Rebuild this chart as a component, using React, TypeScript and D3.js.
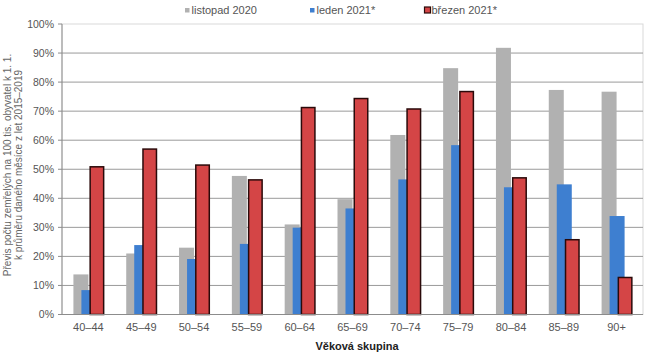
import React from "react";
import * as d3 from "d3";

const categories = ["40–44", "45–49", "50–54", "55–59", "60–64", "65–69", "70–74", "75–79", "80–84", "85–89", "90+"];
const listopad2020 = [13.8, 21, 23, 47.7, 31, 39.7, 61.8, 84.8, 91.8, 77.3, 76.7];
const leden2021 = [8.4, 23.9, 19.1, 24.3, 29.9, 36.5, 46.5, 58.3, 43.8, 44.8, 33.9];
const brezen2021 = [51.1, 57.2, 51.7, 46.6, 71.5, 74.6, 71, 77, 47.3, 26, 13];
const yTicks = [0, 10, 20, 30, 40, 50, 60, 70, 80, 90, 100];
const seriesNames = ["listopad 2020", "leden 2021*", "březen 2021*"];

const W = 650, H = 356;
const left = 62, right = 643, top = 24, bottom = 314.5;
const font = "'Liberation Sans', Arial, sans-serif";

export default function App() {
  const x = d3.scaleBand<string>().domain(categories).range([left, right]).padding(0);
  const y = d3.scaleLinear().domain([0, 100]).range([bottom, top]);
  const bw = 15;
  const offsets = [-15, -7, 1];
  const fills = ["#b1b1b1", "#3e7fd0", "#d44546"];
  const series = [listopad2020, leden2021, brezen2021];

  return (
    <svg width={W} height={H} style={{ position: "absolute", left: 0, top: 0 }} fontFamily={font}>
      <rect x={0} y={0} width={W} height={H} fill="#fff" />
      {/* plot border */}
      <rect x={left} y={top} width={right - left} height={bottom - top} fill="none" stroke="#d9d9d9" strokeWidth={1} />
      {/* gridlines */}
      {yTicks.filter(t => t > 0 && t < 100).map(t => (
        <line key={t} x1={left} x2={right} y1={y(t)} y2={y(t)} stroke="#9a9a9a" strokeWidth={1} />
      ))}
      {/* y axis */}
      <line x1={left} x2={left} y1={top} y2={bottom} stroke="#8c8c8c" />
      {yTicks.map(t => (
        <g key={t}>
          <line x1={left - 4} x2={left} y1={y(t)} y2={y(t)} stroke="#8c8c8c" />
          <text x={left - 8} y={y(t)} dy="0.35em" textAnchor="end" fontSize={10.5} fill="#555">{t}%</text>
        </g>
      ))}
      {/* bars */}
      {series.map((s, si) => (
        <g key={si}>
          {categories.map((c, i) => {
            const cx = (x(c) as number) + x.bandwidth() / 2;
            const yy = y(s[i]);
            return si === 2 ? (
              <rect key={c} x={cx + offsets[si] + 0.75} y={yy + 0.75} width={bw - 1.5} height={bottom - yy - 0.75}
                fill={fills[si]} stroke="#2a0a0a" strokeWidth={1.5} />
            ) : (
              <rect key={c} x={cx + offsets[si]} y={yy} width={bw} height={bottom - yy} fill={fills[si]} />
            );
          })}
        </g>
      ))}
      {/* x axis */}
      <line x1={left} x2={right} y1={bottom} y2={bottom} stroke="#8c8c8c" />
      {categories.map(c => (
        <text key={c} x={(x(c) as number) + x.bandwidth() / 2} y={331} textAnchor="middle" fontSize={11} fill="#555">{c}</text>
      ))}
      <text x={357} y={350} textAnchor="middle" fontSize={11} fontWeight="bold" fill="#222">Věková skupina</text>
      {/* y title */}
      <text transform={`translate(11,165) rotate(-90)`} textAnchor="middle" fontSize={10} fill="#666">
        Převis počtu zemřelých na 100 tis. obyvatel k 1. 1.
      </text>
      <text transform={`translate(22,165) rotate(-90)`} textAnchor="middle" fontSize={10} fill="#666">
        k průměru daného měsíce z let 2015–2019
      </text>
      {/* legend */}
      {[185, 310, 425].map((lx, i) => (
        <g key={i}>
          {i === 2 ? (
            <rect x={lx - 0.5} y={7} width={6} height={6} fill={fills[i]} stroke="#2a0a0a" strokeWidth={1.2} />
          ) : (
            <rect x={lx} y={8} width={4.5} height={4.5} fill={fills[i]} />
          )}
          <text x={lx + 6.5} y={10} dy="0.35em" fontSize={11} fill="#555">{seriesNames[i]}</text>
        </g>
      ))}
    </svg>
  );
}
